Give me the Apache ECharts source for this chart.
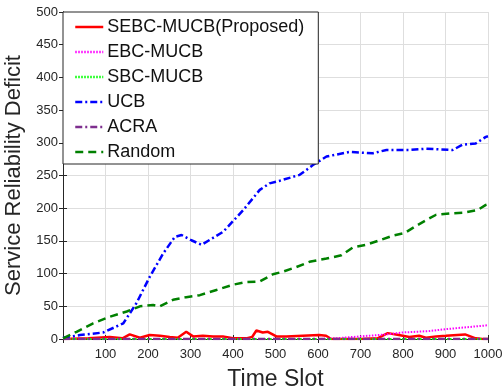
<!DOCTYPE html>
<html>
<head>
<meta charset="utf-8">
<script src="https://cdn.jsdelivr.net/npm/echarts@6/dist/echarts.min.js"></script>
<style>
  html, body { margin: 0; padding: 0; background: #fff; }
  #chart { width: 503px; height: 390px; }
</style>
</head>
<body>
<div id="chart"></div>
<script>
const names = ['SEBC-MUCB(Proposed)', 'EBC-MUCB', 'SBC-MUCB', 'UCB', 'ACRA', 'Random']

// SEBC-MUCB (red, solid)
const sebcT = [0, 60, 110, 140, 157, 181, 204, 228, 251, 270, 290, 306, 329, 353, 376, 400, 431, 445, 455, 470, 482, 502, 525, 564, 603, 619, 631, 650, 700, 740, 764, 790, 815, 838, 854, 878, 901, 946, 971, 987, 1000]
const sebcV = [0, 1, 3, 1, 7, 2, 6, 5, 3, 2, 11, 4, 5, 4, 4, 1, 1, 3, 13, 10, 11, 4, 4, 5, 6, 5, 0, 0, 0, 1, 9, 6, 3, 5, 2, 4, 5, 7, 1, 0, 0]

// EBC-MUCB (magenta, dotted)
const ebcT = [0, 600, 640, 700, 760, 800, 860, 900, 950, 1000]
const ebcV = [0, 0, 1, 4, 7, 10, 12, 15, 18, 21]

// SBC-MUCB (green, dotted)
const sbcT = [0, 1000]
const sbcV = [0, 0]

// UCB (blue, dash-dot)
const ucbT = [0, 40, 95, 142, 173, 204, 236, 263, 279, 302, 326, 377, 424, 463, 486, 510, 557, 588, 620, 674, 729, 761, 815, 855, 917, 940, 971, 995, 1000]
const ucbV = [2, 6, 10, 24, 55, 95, 131, 156, 159, 151, 144, 164, 197, 228, 238, 242, 251, 266, 279, 286, 284, 289, 289, 291, 289, 297, 299, 309, 310]

// ACRA (purple, dash-dot)
const acraT = [0, 1000]
const acraV = [0, 0]

// Random (dark green, dashed)
const randT = [0, 32, 71, 110, 150, 181, 212, 228, 259, 290, 322, 361, 400, 431, 463, 494, 518, 549, 580, 620, 655, 682, 713, 745, 776, 804, 831, 855, 878, 909, 940, 975, 995, 1000]
const randV = [1, 11, 24, 34, 42, 50, 52, 50, 60, 64, 67, 75, 83, 87, 88, 99, 103, 110, 118, 123, 128, 140, 144, 151, 158, 162, 173, 182, 190, 192, 193, 197, 205, 206]

const zip = (t, v) => t.map((x, i) => [x, v[i]])

const font = '"Liberation Sans", Arial, Helvetica, sans-serif'
const axisColor = '#262626'
const gridColor = '#dedede'

const mkLine = (name, t, v, color, type, width) => ({
  name,
  type: 'line',
  data: zip(t, v),
  showSymbol: false,
  symbol: 'none',
  animation: false,
  itemStyle: { color },
  lineStyle: { color, type, width }
})

const series = [
  mkLine(names[0], sebcT, sebcV, '#ff0000', 'solid', 2.5),
  mkLine(names[1], ebcT, ebcV, '#ff00ff', [1.5, 1.5], 2),
  mkLine(names[2], sbcT, sbcV, '#00ff00', [1.5, 1.5], 2),
  mkLine(names[3], ucbT, ucbV, '#0000ff', [7, 3, 2, 3], 2.5),
  mkLine(names[4], acraT, acraV, '#7e2f8e', [7, 3, 2, 3], 2.5),
  mkLine(names[5], randT, randV, '#008000', [8, 5], 2.5)
]

const chart = echarts.init(document.getElementById('chart'))

const option = {
  animation: false,
  backgroundColor: '#fff',
  grid: { left: 63, right: 15, top: 12, bottom: 51, outerBoundsMode: 'none', containLabel: false },
  legend: {
    data: names,
    orient: 'vertical',
    left: 63,
    top: 12,
    backgroundColor: '#fff',
    borderColor: axisColor,
    borderWidth: 1,
    borderRadius: 0,
    padding: [6, 14, 3, 11],
    itemWidth: 28,
    itemHeight: 14,
    itemGap: 7,
    itemStyle: { opacity: 0 },
    lineStyle: { width: 2.5 },
    textStyle: { fontFamily: font, fontSize: 18, color: '#111', lineHeight: 18, padding: [0, 0, 0, -1] },
    selectedMode: false
  },
  xAxis: [
    {
      type: 'value',
      min: 0,
      max: 1000,
      interval: 100,
      name: 'Time Slot',
      nameLocation: 'middle',
      nameGap: 29,
      nameTextStyle: { fontFamily: font, fontSize: 23, color: axisColor },
      axisLine: { show: true, lineStyle: { color: axisColor, width: 1 } },
      axisTick: { show: true, inside: true, length: 4, lineStyle: { color: axisColor } },
      axisLabel: {
        fontFamily: font,
        fontSize: 13,
        color: axisColor,
        margin: 9,
        formatter: (v) => (v === 0 ? '' : String(v))
      },
      splitLine: { show: true, lineStyle: { color: gridColor, width: 1 } }
    },
    {
      type: 'value',
      position: 'top',
      min: 0,
      max: 1000,
      interval: 100,
      axisLine: { show: true, lineStyle: { color: axisColor, width: 1 } },
      axisTick: { show: true, inside: true, length: 4, lineStyle: { color: axisColor } },
      axisLabel: { show: false },
      splitLine: { show: false }
    }
  ],
  yAxis: [
    {
      type: 'value',
      min: 0,
      max: 500,
      interval: 50,
      name: 'Service Reliability Deficit',
      nameLocation: 'middle',
      nameGap: 29,
      nameTextStyle: { fontFamily: font, fontSize: 22, color: axisColor },
      axisLine: { show: true, lineStyle: { color: axisColor, width: 1 } },
      axisTick: { show: true, inside: true, length: 4, lineStyle: { color: axisColor } },
      axisLabel: { fontFamily: font, fontSize: 13, color: axisColor, margin: 5 },
      splitLine: { show: true, lineStyle: { color: gridColor, width: 1 } }
    },
    {
      type: 'value',
      position: 'right',
      min: 0,
      max: 500,
      interval: 50,
      axisLine: { show: true, lineStyle: { color: axisColor, width: 1 } },
      axisTick: { show: true, inside: true, length: 4, lineStyle: { color: axisColor } },
      axisLabel: { show: false },
      splitLine: { show: false }
    }
  ],
  series
}

chart.setOption(option)
</script>
</body>
</html>
